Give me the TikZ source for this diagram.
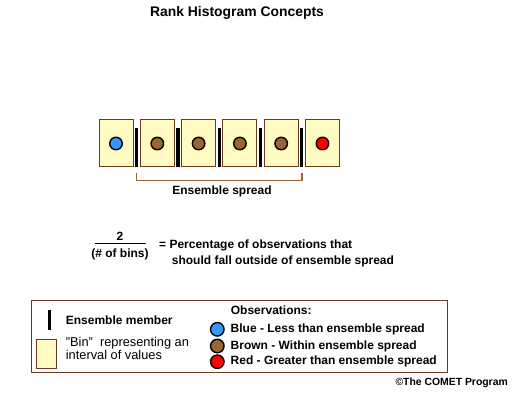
\documentclass[tikz,border=0pt]{standalone}
\usepackage{fontspec}
\setmainfont{Liberation Sans}
\usetikzlibrary{positioning}

\definecolor{binfill}{HTML}{FFFBC2}
\definecolor{binedge}{HTML}{6B3A1E}
\definecolor{obsblue}{HTML}{3399FF}
\definecolor{obsbrown}{HTML}{996633}
\definecolor{obsred}{HTML}{FF0000}

\tikzset{
  bin/.style={draw=binedge,fill=binfill,line width=0.9pt,inner sep=0pt,minimum width=34pt,minimum height=47pt},
  member/.style={fill=black,inner sep=0pt,minimum width=3.2pt,minimum height=39pt},
  obs/.style={circle,draw=black,line width=1.4pt,inner sep=0pt,minimum size=12.5pt},
  lbl/.style={font=\bfseries\fontsize{12}{13}\selectfont,inner sep=0pt},
  plain/.style={font=\fontsize{12.8}{10}\selectfont,inner sep=0pt,align=left}
}

\begin{document}
\begin{tikzpicture}[x={(1pt,0)},y={(0,-1pt)}]
\useasboundingbox (0,0) rectangle (517,400);
\node[font=\bfseries\fontsize{13.9}{15}\selectfont] (title) at (237,13) {Rank Histogram Concepts};
% bins with observations
\foreach \i/\c in {1/obsblue,2/obsbrown,3/obsbrown,4/obsbrown,5/obsbrown,6/obsred} {
  \node[bin] (bin\i) at ({116+41.3*(\i-1)},142.5) {};
  \node[obs,fill=\c] (obs\i) at ([yshift=-1pt]bin\i.center) {};
}
% ensemble members
\foreach \i in {1,...,5} {\node[member] (mem\i) at ({136.65+41.3*(\i-1)},147.5) {};}
\draw[obsbrown,line width=1.5pt] ([yshift=-6pt]mem1.south) -- ([yshift=-13.5pt]mem1.south) -- ([yshift=-13.5pt]mem5.south) -- ([yshift=-6pt]mem5.south);
\node[lbl] (spread) at (222,191) {Ensemble spread};
% fraction
\node[lbl] (num) at (120,236.5) {2};
\node[lbl] (den) at (120,254) {(\# of bins)};
\coordinate (fracL) at (95,243.3);
\coordinate (fracR) at (145.7,243.3);
\draw[line width=1pt] (fracL) -- (fracR);
\node[lbl,anchor=west] (pct1) at (159,245) {= Percentage of observations that};
\node[lbl,anchor=west] (pct2) at (171.7,261.5) {should fall outside of ensemble spread};
% legend
\draw[binedge,line width=1pt] (31.7,300) rectangle (447.7,372.3);
\node[member,minimum height=20pt] (keymem) at (49.3,320) {};
\node[bin,minimum width=19.3pt,minimum height=29pt] (keybin) at (46.3,353.8) {};
\node[lbl,anchor=west] (keymemtxt) at (65.7,320.7) {Ensemble member};
\node[plain,anchor=west] (keybintxt) at (65.7,348.3) {"Bin"\ \ representing an\\interval of values};
\node[lbl,anchor=west] (obshead) at (230.7,310) {Observations:};
\foreach \c/\t/\y [count=\k] in {obsblue/Blue - Less than ensemble spread/329.3,obsbrown/Brown - Within ensemble spread/346,obsred/Red - Greater than ensemble spread/361.7} {
  \node[obs,fill=\c,minimum size=13.5pt] (keyobs\k) at (217.3,\y) {};
  \node[lbl,anchor=west] (keytxt\k) at (230.5,\y) {\t};
}
\node[font=\bfseries\fontsize{10.4}{12}\selectfont,anchor=east,inner sep=0pt] (credit) at (508,383) {©The COMET Program};
\end{tikzpicture}
\end{document}
